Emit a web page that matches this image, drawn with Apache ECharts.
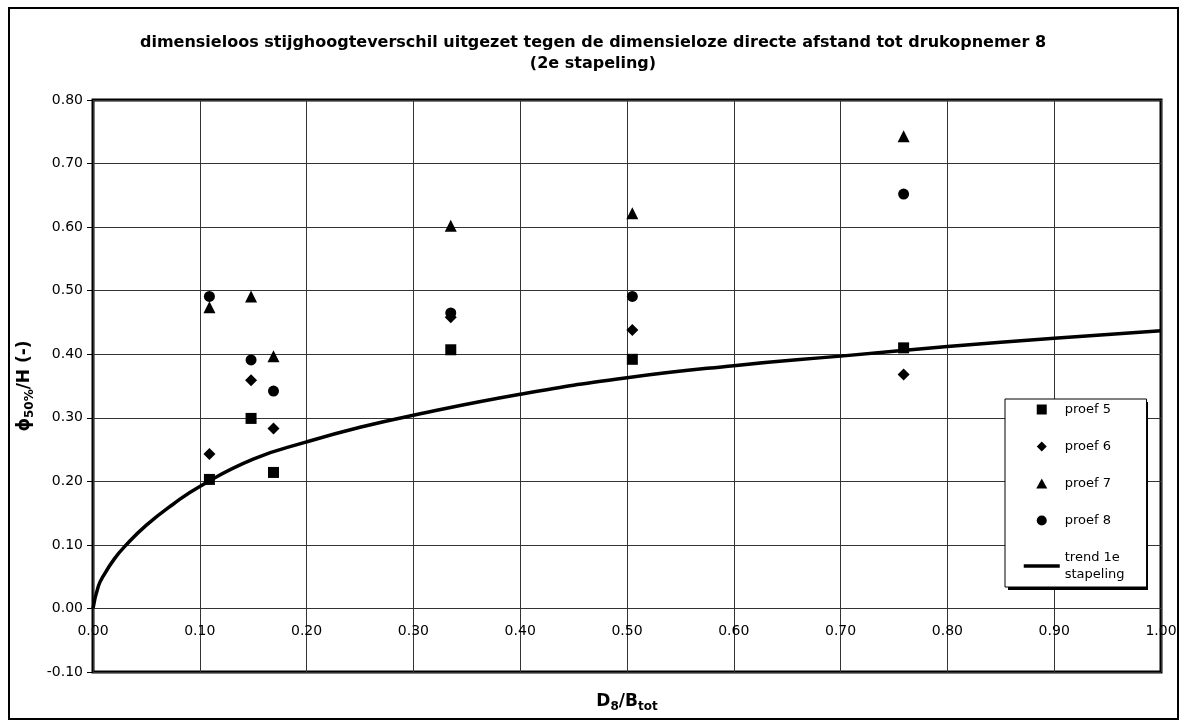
<!DOCTYPE html>
<html>
<head>
<meta charset="utf-8">
<title>dimensieloos stijghoogteverschil</title>
<script src="https://cdn.jsdelivr.net/npm/echarts/dist/echarts.min.js"></script>
<style>
  html, body { margin: 0; padding: 0; background: #fff; }
  #chart { width: 1190px; height: 722px; }
</style>
</head>
<body>
<div id="chart"></div>
<script>
// D8/Btot positions of the six measuring points (shared by all tests)
var afstand = [0.109, 0.148, 0.169, 0.335, 0.505, 0.759];

// phi50%/H per test
var proef5 = [0.203, 0.299, 0.214, 0.407, 0.392, 0.410];
var proef6 = [0.243, 0.359, 0.283, 0.458, 0.438, 0.368];
var proef7 = [0.474, 0.491, 0.397, 0.602, 0.622, 0.743];
var proef8 = [0.491, 0.391, 0.342, 0.465, 0.491, 0.652];

// trend line of the 1st stacking
var trendX = [0, 0.005, 0.01, 0.02, 0.03, 0.05, 0.075, 0.1, 0.15, 0.2, 0.25, 0.3, 0.4, 0.5, 0.6, 0.7, 0.8, 0.9, 1.0];
var trendY = [0, 0.035, 0.052, 0.078, 0.098, 0.131, 0.164, 0.192, 0.235, 0.262, 0.285, 0.304, 0.337, 0.363, 0.382, 0.397, 0.412, 0.425, 0.437];

var seriesNames = ['proef 5', 'proef 6', 'proef 7', 'proef 8', 'trend 1e\nstapeling'];
var xTicks = { min: 0, max: 1, interval: 0.1 };
var yTicks = { min: -0.1, max: 0.8, interval: 0.1 };

var FONT = "'DejaVu Sans', 'Liberation Sans', Arial, sans-serif";

// plot box
var GRID_TOP = 100, GRID_BOTTOM = 50, CHART_H = 722;
// legend box (left, top, width, height)
var LEG = { x: 1005, y: 399, w: 140, h: 188 };

function pairs(xs, ys) {
	var out = [];
	for (var i = 0; i < xs.length; i++) {
		out.push([xs[i], ys[i]]);
	}
	return out;
}

function scatter(name, ys, symbol, size) {
	return {
		name: name,
		type: 'scatter',
		data: pairs(afstand, ys),
		symbol: symbol,
		symbolSize: size,
		itemStyle: { color: '#000', opacity: 1 },
		z: 3
	};
}

// legend icons: invisible end points keep the 36x10 box so the marker is not stretched
var legendIcons = {
	rect: 'path://M0,5L0,5M13,0L23,0L23,10L13,10ZM36,5L36,5',
	diamond: 'path://M0,5L0,5M18,0L23,5L18,10L13,5ZM36,5L36,5',
	triangle: 'path://M0,5L0,5M18,0L23.5,10L12.5,10ZM36,5L36,5'
};

var nameRich = {
	a: { fontFamily: FONT, fontSize: 17, fontWeight: 'bold', color: '#000', lineHeight: 22 },
	s: { fontFamily: FONT, fontSize: 12, fontWeight: 'bold', color: '#000', verticalAlign: 'bottom', lineHeight: 14 }
};

// Excel draws the x axis labels along the 0 line, not at the bottom of the plot
var plotH = CHART_H - GRID_TOP - GRID_BOTTOM;
var zeroOffset = -plotH * (0 - yTicks.min) / (yTicks.max - yTicks.min);

var myChart = echarts.init(document.getElementById('chart'));

var option = {
	animation: false,
	backgroundColor: '#fff',
	textStyle: { fontFamily: FONT, color: '#000' },
	title: {
		text: 'dimensieloos stijghoogteverschil uitgezet tegen de dimensieloze directe afstand tot drukopnemer 8\n(2e stapeling)',
		left: 588,
		top: 27,
		textAlign: 'center',
		textStyle: { fontFamily: FONT, fontSize: 16, fontWeight: 'bold', color: '#000', lineHeight: 21 }
	},
	graphic: [{
		type: 'rect',
		shape: { x: 9, y: 8, width: 1169, height: 711 },
		style: { fill: null, stroke: '#000', lineWidth: 2 },
		silent: true,
		z: -1
	}, {
		// hard drop shadow of the legend box
		type: 'rect',
		shape: { x: LEG.x + 3, y: LEG.y + 3, width: LEG.w, height: LEG.h },
		style: { fill: '#000' },
		silent: true,
		z: 3
	}],
	legend: {
		orient: 'vertical',
		left: LEG.x,
		top: LEG.y,
		padding: [2, 22, 4, 17],
		itemWidth: 36,
		itemHeight: 10,
		itemGap: 20,
		backgroundColor: '#fff',
		borderColor: '#000',
		borderWidth: 1,
		z: 4,
		textStyle: { fontFamily: FONT, fontSize: 13, color: '#000', lineHeight: 17 },
		data: [
			{ name: seriesNames[0], icon: legendIcons.rect },
			{ name: seriesNames[1], icon: legendIcons.diamond },
			{ name: seriesNames[2], icon: legendIcons.triangle },
			{ name: seriesNames[3], icon: 'circle' },
			{
				name: seriesNames[4],
				itemStyle: { color: 'rgba(0,0,0,0)', opacity: 0, borderWidth: 0 },
				lineStyle: { color: '#000', width: 3.5 }
			}
		]
	},
	grid: {
		left: 93,
		right: 29,
		top: GRID_TOP,
		bottom: GRID_BOTTOM,
		outerBoundsMode: 'none',
		containLabel: false,
		show: true,
		borderColor: '#000',
		borderWidth: 3,
		backgroundColor: '#fff'
	},
	xAxis: {
		type: 'value',
		min: xTicks.min,
		max: xTicks.max,
		interval: xTicks.interval,
		offset: zeroOffset,
		name: '{a|D}{s|8}{a|/B}{s|tot}',
		nameLocation: 'middle',
		nameGap: 82,
		nameTextStyle: { rich: nameRich },
		axisLine: { onZero: false, lineStyle: { color: '#333', width: 1 } },
		axisTick: { show: false },
		axisLabel: {
			margin: 16,
			fontFamily: FONT,
			fontSize: 14,
			color: '#000',
			formatter: function (v) { return v.toFixed(2); }
		},
		splitLine: { show: true, lineStyle: { color: '#333', width: 1 } }
	},
	yAxis: {
		type: 'value',
		min: yTicks.min,
		max: yTicks.max,
		interval: yTicks.interval,
		name: '{a|ϕ}{s|50%}{a|/H (-)}',
		nameLocation: 'middle',
		nameGap: 45,
		nameTextStyle: { rich: nameRich },
		axisLine: { show: false, onZero: false },
		axisTick: { show: true, length: 6, lineStyle: { color: '#000' } },
		axisLabel: {
			margin: 10,
			fontFamily: FONT,
			fontSize: 14,
			color: '#000',
			formatter: function (v) { return v.toFixed(2); }
		},
		splitLine: { show: true, lineStyle: { color: '#333', width: 1 } }
	},
	series: [
		scatter(seriesNames[0], proef5, 'rect', 11),
		scatter(seriesNames[1], proef6, 'diamond', 12),
		scatter(seriesNames[2], proef7, 'triangle', 12),
		scatter(seriesNames[3], proef8, 'circle', 11),
		{
			name: seriesNames[4],
			type: 'line',
			data: pairs(trendX, trendY),
			smooth: true,
			symbol: 'none',
			lineStyle: { color: '#000', width: 3.5 },
			itemStyle: { color: '#000' },
			z: 2
		}
	]
};

myChart.setOption(option);
</script>
</body>
</html>
